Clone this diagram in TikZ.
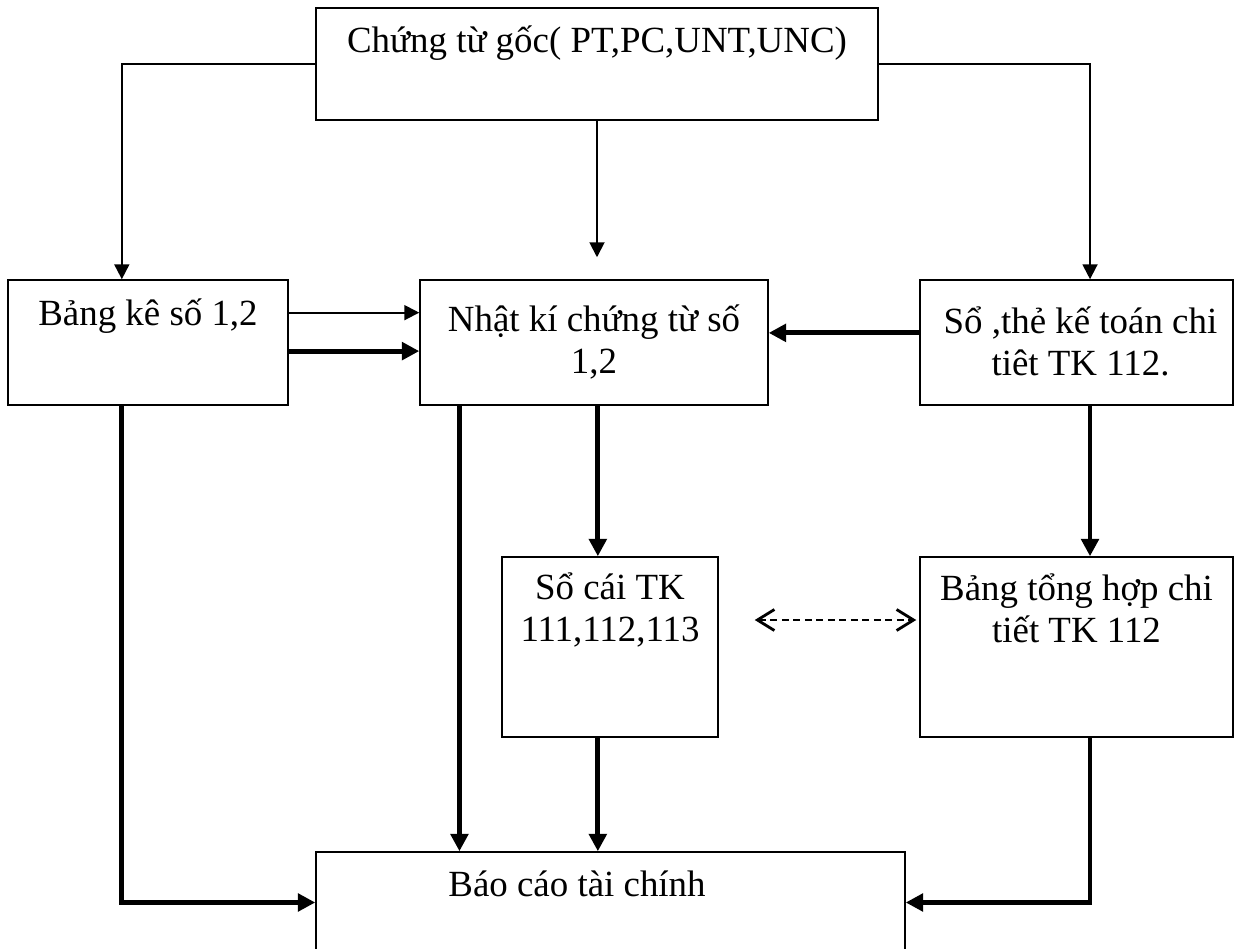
\documentclass[tikz,border=0pt]{standalone}
\usepackage{fontspec}
\setmainfont{Liberation Serif}
\usetikzlibrary{arrows.meta,fit,calc}

\begin{document}
\begin{tikzpicture}[x=0.02cm, y=-0.02cm,
		hop/.style={draw, line width=0.85pt, inner sep=0pt},
		chu/.style={font=\fontsize{21}{23.8}\selectfont, align=center, anchor=base, inner sep=0pt},
		mong/.style={-{Triangle[length=0.3cm,width=0.3cm]}, line width=1.1pt},
		day/.style={-{Triangle[length=0.35cm,width=0.35cm]}, line width=2.8pt},
		dut/.style={{Straight Barb[length=0.34cm,width=0.42cm,line width=1.6pt]}-{Straight Barb[length=0.34cm,width=0.42cm,line width=1.6pt]}, line width=1.3pt, dash pattern=on 0.14cm off 0.09cm}]
	
	% --- KHUNG ---
	\clip (0,0) rectangle (1242,949);
	
	% --- CÁC Ô ---
	\node[hop, fit={(316,8) (878,120)}] (goc) {};
	\node[hop, fit={(8,280) (288,405)}] (bangke) {};
	\node[hop, fit={(420,280) (768,405)}] (nhatki) {};
	\node[hop, fit={(920,280) (1233,405)}] (sothe) {};
	\node[hop, fit={(502,557) (718,737)}] (socai) {};
	\node[hop, fit={(920,557) (1233,737)}] (tonghop) {};
	\node[hop, fit={(316,852) (905,953)}] (baocao) {};
	
	% --- CHỮ (base = dòng cuối) ---
	\node[chu] (tgoc) at ([yshift=-0.9cm]goc.north) {Chứng từ gốc( PT,PC,UNT,UNC)};
	\node[chu] (tbangke) at ([yshift=-0.92cm]bangke.north) {Bảng kê số 1,2};
	\node[chu] (tnhatki) at ([yshift=-1.88cm]nhatki.north) {Nhật kí chứng từ số\\1,2};
	\node[chu] (tsothe) at ([xshift=0.08cm,yshift=-1.92cm]sothe.north) {Sổ ,thẻ kế toán chi\\tiêt TK 112.};
	\node[chu] (tsocai) at ([yshift=-1.70cm]socai.north) {Sổ cái TK\\111,112,113};
	\node[chu] (ttonghop) at ([yshift=-1.72cm]tonghop.north) {Bảng tổng hợp chi\\tiết TK 112};
	\node[chu] (tbaocao) at ([xshift=-0.67cm,yshift=-0.9cm]baocao.north) {Báo cáo tài chính};
	
	% --- ĐIỂM NỐI ---
	\coordinate (bkTren) at ($(bangke.north west)!0.407!(bangke.north east)$);
	\coordinate (bkDuoi) at ($(bangke.south west)!0.407!(bangke.south east)$);
	\coordinate (bk1) at ($(bangke.north east)!0.264!(bangke.south east)$);
	\coordinate (bk2) at ($(bangke.north east)!0.568!(bangke.south east)$);
	\coordinate (nkTren) at ([yshift=0.44cm]nhatki.north);
	\coordinate (nkDuoi) at ($(nhatki.south west)!0.115!(nhatki.south east)$);
	\coordinate (nkGiua) at ($(nhatki.south west)!0.511!(nhatki.south east)$);
	\coordinate (stTren) at ($(sothe.north west)!0.543!(sothe.north east)$);
	\coordinate (stDuoi) at ($(sothe.south west)!0.543!(sothe.south east)$);
	\coordinate (st1) at ($(sothe.north west)!0.424!(sothe.south west)$);
	\coordinate (dutDau) at ([xshift=0.72cm,yshift=0.54cm]socai.east);
	
	% --- MŨI TÊN MẢNH ---
	\draw[mong] (goc.west) -| (bkTren);
	\draw[mong] (goc.south) -- (goc.south |- nkTren);
	\draw[mong] (goc.east) -| (stTren);
	\draw[mong] (bk1) -- (bk1 -| nhatki.west);
	
	% --- MŨI TÊN ĐẬM ---
	\draw[day] (bk2) -- (bk2 -| nhatki.west);
	\draw[day] (st1) -- (st1 -| nhatki.east);
	\draw[day] (bkDuoi) |- (baocao.west);
	\draw[day] (nkDuoi) -- (nkDuoi |- baocao.north);
	\draw[day] (nkGiua) -- (nkGiua |- socai.north);
	\draw[day] (nkGiua |- socai.south) -- (nkGiua |- baocao.north);
	\draw[day] (stDuoi) -- (stDuoi |- tonghop.north);
	\draw[day] (stDuoi |- tonghop.south) |- (baocao.east);
	
	% --- ĐỐI CHIẾU ---
	\draw[dut, shorten >=0.06cm] (dutDau) -- (dutDau -| tonghop.west);
	
\end{tikzpicture}
\end{document}
